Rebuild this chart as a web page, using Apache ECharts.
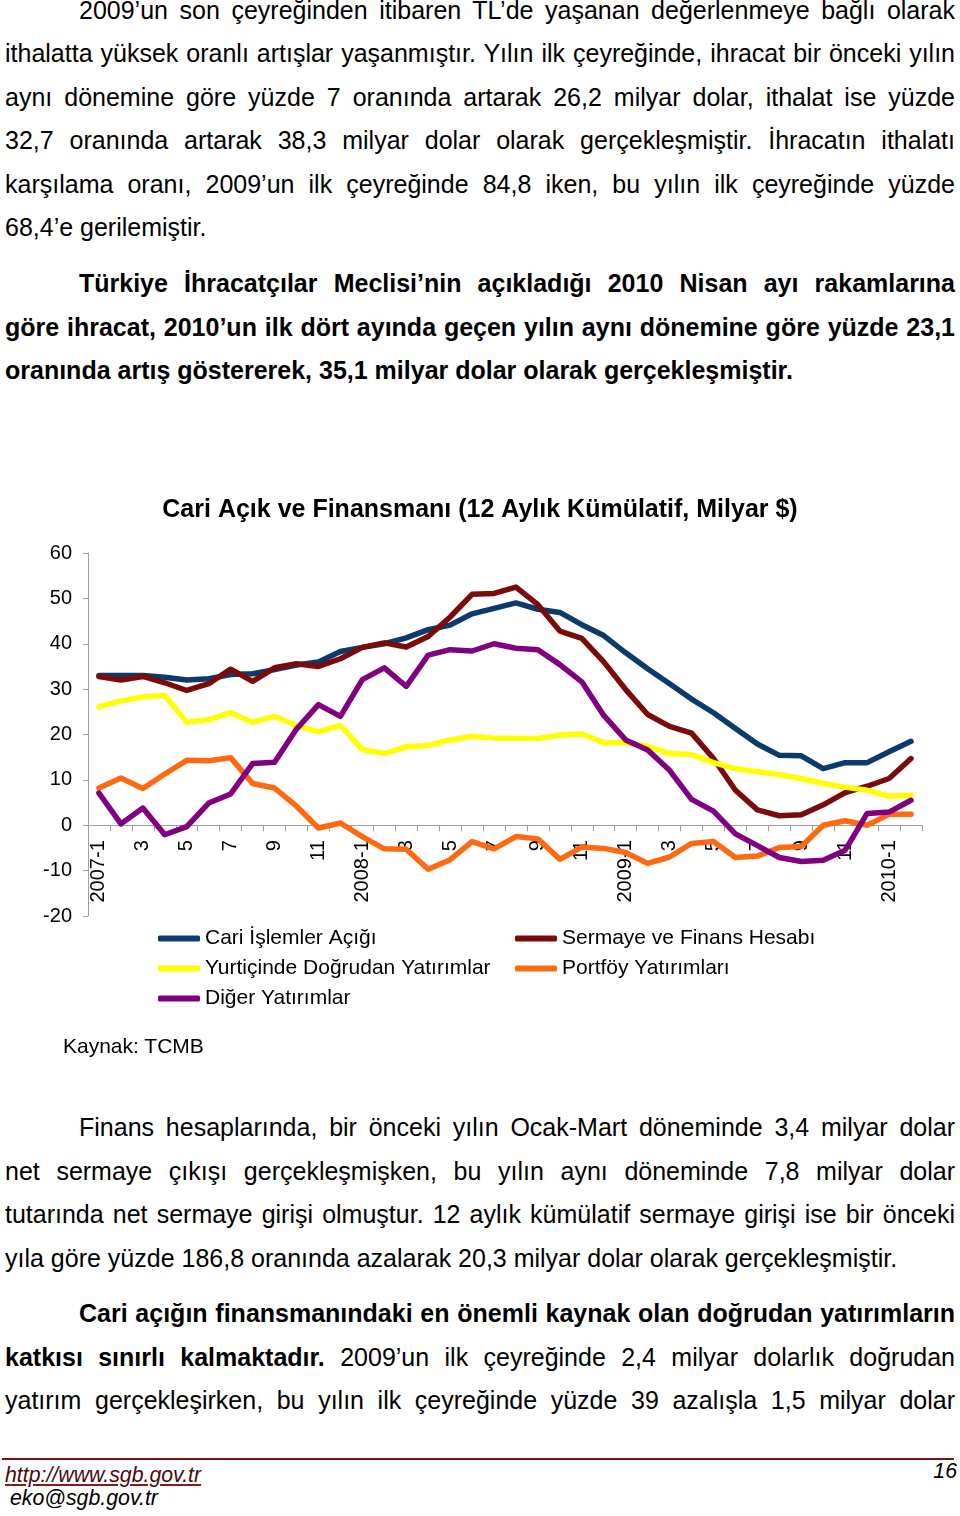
<!DOCTYPE html>
<html>
<head>
<meta charset="utf-8">
<script src="https://cdn.jsdelivr.net/npm/echarts@6/dist/echarts.min.js"></script>
<style>
  html, body { margin: 0; padding: 0; background: #fff; }
  body { width: 960px; height: 1516px; position: relative; overflow: hidden;
         font-family: Arial, "Liberation Sans", sans-serif; color: #000; }
  .ln { position: absolute; font-size: 25px; line-height: 44px; height: 44px; white-space: nowrap; }
  .full { text-align: justify; text-align-last: justify; width: 950px; left: 5px; }
  .ind { text-align: justify; text-align-last: justify; width: 876px; left: 79px; }
  .last { left: 5px; }
  .b { font-weight: bold; }
  #chart { position: absolute; left: 0; top: 470px; width: 960px; height: 600px; }
  .src { position: absolute; left: 63px; top: 1033px; font-size: 21px; line-height: 26px; }
  .rule { position: absolute; left: 2px; width: 952px; top: 1458px; height: 2px; background: #7a1414; }
  .foot { position: absolute; font-style: italic; font-size: 21.3px; line-height: 24px; }
</style>
</head>
<body>
<div class="ln ind" style="top:-12px">2009’un son çeyreğinden itibaren TL’de yaşanan değerlenmeye bağlı olarak</div>
<div class="ln full" style="top:31px">ithalatta yüksek oranlı artışlar yaşanmıştır. Yılın ilk çeyreğinde, ihracat bir önceki yılın</div>
<div class="ln full" style="top:75px">aynı dönemine göre yüzde 7 oranında artarak 26,2 milyar dolar, ithalat ise yüzde</div>
<div class="ln full" style="top:118px">32,7 oranında artarak 38,3 milyar dolar olarak gerçekleşmiştir. İhracatın ithalatı</div>
<div class="ln full" style="top:162px">karşılama oranı, 2009’un ilk çeyreğinde 84,8 iken, bu yılın ilk çeyreğinde yüzde</div>
<div class="ln last" style="top:205px">68,4’e gerilemiştir.</div>

<div class="ln ind b" style="top:261px">Türkiye İhracatçılar Meclisi’nin açıkladığı 2010 Nisan ayı rakamlarına</div>
<div class="ln full b" style="top:305px">göre ihracat, 2010’un ilk dört ayında geçen yılın aynı dönemine göre yüzde 23,1</div>
<div class="ln last b" style="top:348px">oranında artış göstererek, 35,1 milyar dolar olarak gerçekleşmiştir.</div>

<div id="chart"></div>
<div class="src">Kaynak: TCMB</div>

<div class="ln ind" style="top:1105px">Finans hesaplarında, bir önceki yılın Ocak-Mart döneminde 3,4 milyar dolar</div>
<div class="ln full" style="top:1149px">net sermaye çıkışı gerçekleşmişken, bu yılın aynı döneminde 7,8 milyar dolar</div>
<div class="ln full" style="top:1192px">tutarında net sermaye girişi olmuştur. 12 aylık kümülatif sermaye girişi ise bir önceki</div>
<div class="ln last" style="top:1236px">yıla göre yüzde 186,8 oranında azalarak 20,3 milyar dolar olarak gerçekleşmiştir.</div>

<div class="ln ind b" style="top:1291px">Cari açığın finansmanındaki en önemli kaynak olan doğrudan yatırımların</div>
<div class="ln full" style="top:1335px"><b>katkısı sınırlı kalmaktadır.</b> 2009’un ilk çeyreğinde 2,4 milyar dolarlık doğrudan</div>
<div class="ln full" style="top:1378px">yatırım gerçekleşirken, bu yılın ilk çeyreğinde yüzde 39 azalışla 1,5 milyar dolar</div>

<div class="rule"></div>
<div class="foot" style="left:5px; top:1463px; color:#4a0a0a; text-decoration:underline; text-decoration-color:#8a1a1a;">http://www.sgb.gov.tr</div>
<div class="foot" style="left:10px; top:1486px;">eko@sgb.gov.tr</div>
<div class="foot" style="right:3px; top:1459px;">16</div>

<script>
// Month labels (2007-1 .. 2010-2)
const categories = [
  '2007-1','2','3','4','5','6','7','8','9','10','11','12',
  '2008-1','2','3','4','5','6','7','8','9','10','11','12',
  '2009-1','2','3','4','5','6','7','8','9','10','11','12',
  '2010-1','2'
];
const seriesNames = [
  'Cari İşlemler Açığı',
  'Sermaye ve Finans Hesabı',
  'Yurtiçinde Doğrudan Yatırımlar',
  'Portföy Yatırımları',
  'Diğer Yatırımlar'
];
const cariIslemler = [33, 33, 33, 32.6, 32, 32.3, 33.2, 33.4, 34.3, 35.3, 36, 38.3,
  39.2, 40, 41.3, 43.1, 44.1, 46.6, 47.8, 49, 47.6, 46.9, 44.2, 41.8,
  38, 34.5, 31.2, 27.8, 24.8, 21.3, 17.9, 15.4, 15.3, 12.5, 13.8, 13.8,
  16.2, 18.5];
const sermayeFinans = [32.8, 32, 32.8, 31.4, 29.7, 31.2, 34.4, 31.7, 34.7, 35.6, 35, 36.7,
  39.2, 40.2, 39.3, 41.6, 45.9, 50.9, 51.1, 52.5, 48.6, 42.8, 41.2, 36,
  29.9, 24.4, 21.8, 20.3, 14.7, 7.7, 3.4, 2.1, 2.3, 4.5, 7.2, 8.6,
  10.3, 14.7];
const yurticiDogrudan = [26.1, 27.4, 28.3, 28.6, 22.7, 23.3, 24.8, 22.7, 24, 22, 20.6, 22,
  16.7, 15.8, 17.3, 17.6, 18.8, 19.6, 19.2, 19.2, 19.1, 19.9, 20.1, 18.2,
  18.2, 17.4, 15.8, 15.6, 13.8, 12.5, 11.8, 11.2, 10.3, 9.2, 8.4, 7.7,
  6.4, 6.6];
const portfoy = [8.2, 10.4, 8.1, 11.3, 14.3, 14.2, 14.9, 9.2, 8.2, 4.2, -0.6, 0.5,
  -2.5, -5.2, -5.3, -9.7, -7.6, -3.6, -5.2, -2.5, -3, -7.5, -4.8, -5.1,
  -6, -8.4, -7, -4, -3.6, -7.1, -6.8, -4.9, -4.7, 0, 1, 0,
  2.4, 2.4];
const diger = [7.1, 0.3, 3.8, -2.1, -0.3, 4.9, 6.9, 13.6, 13.9, 21.2, 26.6, 24,
  32.1, 34.7, 30.6, 37.5, 38.7, 38.4, 40, 39, 38.7, 35.4, 31.6, 24.2,
  18.8, 16.6, 12.1, 5.7, 3.1, -1.9, -4.5, -7.1, -8, -7.7, -5.5, 2.6,
  2.9, 5.5];
const yTicks = { min: -20, max: 60, interval: 10 };

const colors = ['#0b3b6b', '#7d0a0a', '#ffff00', '#ff6a10', '#800080'];
const values = [cariIslemler, sermayeFinans, yurticiDogrudan, portfoy, diger];
const FONT = 'Arial, "Liberation Sans", sans-serif';

const GRID_H = 363;
// shift the category axis (line, ticks, labels) up to the zero line
const zeroOffset = -GRID_H * (0 - yTicks.min) / (yTicks.max - yTicks.min);

const legendPos = [
  { left: 158, top: 458 }, { left: 515, top: 458 },
  { left: 158, top: 488 }, { left: 515, top: 488 },
  { left: 158, top: 518 }
];

const chart = echarts.init(document.getElementById('chart'), null, { renderer: 'canvas' });
chart.setOption({
  animation: false,
  color: colors,
  title: {
    text: 'Cari Açık ve Finansmanı (12 Aylık Kümülatif, Milyar $)',
    left: 'center', top: 28, padding: 0,
    textStyle: { fontFamily: FONT, fontSize: 25, fontWeight: 'bold', color: '#000' }
  },
  legend: seriesNames.map((n, i) => ({
    data: [n], left: legendPos[i].left, top: legendPos[i].top, padding: 0,
    icon: 'roundRect', itemWidth: 42, itemHeight: 6,
    textStyle: { fontFamily: FONT, fontSize: 21, color: '#000' }
  })),
  grid: { left: 88, right: 38, top: 83, height: GRID_H },
  xAxis: {
    type: 'category', data: categories, boundaryGap: true,
    position: 'bottom', offset: zeroOffset,
    axisLine: { onZero: false, lineStyle: { color: '#a0a0a0', width: 1 } },
    axisTick: { show: true, interval: 0, length: 6, lineStyle: { color: '#a0a0a0' } },
    axisLabel: { interval: 1, rotate: 90, margin: 15, fontFamily: FONT, fontSize: 20, color: '#000' },
    splitLine: { show: false }
  },
  yAxis: {
    type: 'value', min: yTicks.min, max: yTicks.max, interval: yTicks.interval,
    axisLine: { show: true, lineStyle: { color: '#a0a0a0', width: 1 } },
    axisTick: { show: true, length: 5, lineStyle: { color: '#a0a0a0' } },
    axisLabel: { margin: 16, fontFamily: FONT, fontSize: 20, color: '#000' },
    splitLine: { show: false }
  },
  series: seriesNames.map((n, i) => ({
    name: n, type: 'line', data: values[i], symbol: 'none',
    lineStyle: { width: 5.5, color: colors[i], cap: 'round', join: 'round' },
    itemStyle: { color: colors[i] }
  }))
});
</script>
</body>
</html>
